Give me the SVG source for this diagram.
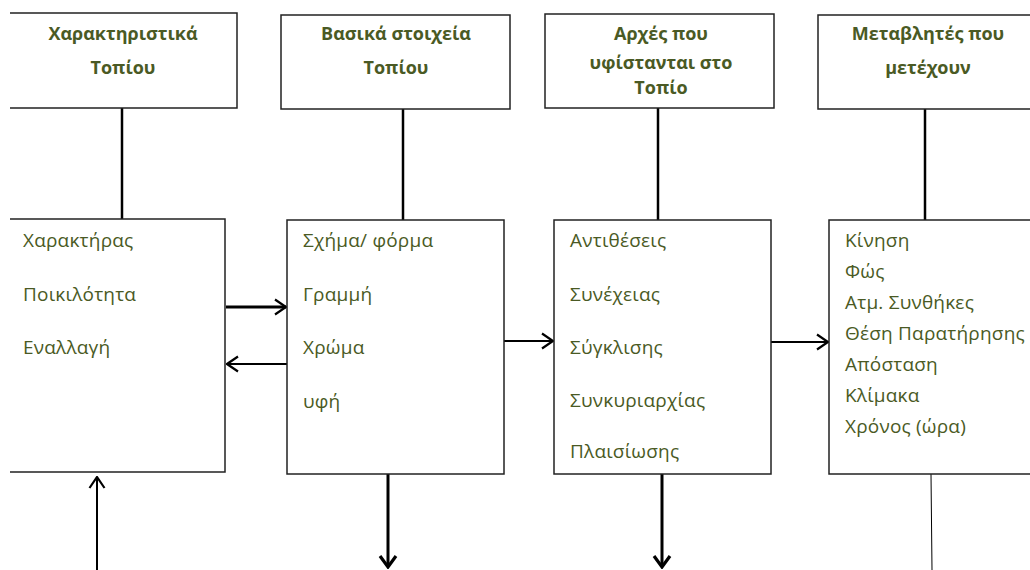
<svg xmlns="http://www.w3.org/2000/svg" width="1030" height="570" viewBox="0 0 1030 570">
<style>
.box{fill:#fff;stroke:#222;stroke-width:1.5}
.t{font-family:"Open Sans","Noto Sans","DejaVu Sans",sans-serif;font-size:19px;letter-spacing:0.2px;fill:#4a5a24}
.h{font-family:"Open Sans","Noto Sans","DejaVu Sans",sans-serif;font-size:18px;font-weight:bold;fill:#4a5a24;text-anchor:middle}
.c{stroke:#000;fill:none}
</style>
<defs>
<marker id="ah" viewBox="0 0 14 18" refX="12.5" refY="9" markerWidth="14" markerHeight="18" markerUnits="userSpaceOnUse" orient="auto">
<path d="M1.5,1.5 L12.5,9 L1.5,16.5" fill="none" stroke="#000" stroke-width="2.2"/>
</marker>
<marker id="ahb" viewBox="0 0 15 20" refX="13" refY="10" markerWidth="15" markerHeight="20" markerUnits="userSpaceOnUse" orient="auto">
<path d="M2,2 L13,10 L2,18" fill="none" stroke="#000" stroke-width="3.2"/>
</marker>
</defs>
<g id="connectors">
<line class="c" x1="122" y1="108" x2="122" y2="220" stroke-width="2.5"/>
<line class="c" x1="403" y1="109" x2="403" y2="220" stroke-width="2.5"/>
<line class="c" x1="658" y1="108" x2="658" y2="220" stroke-width="2.5"/>
<line class="c" x1="925" y1="109" x2="925" y2="220" stroke-width="2.5"/>
<line class="c" x1="226" y1="307" x2="286" y2="307" stroke-width="3" stroke="#333" marker-end="url(#ah)"/>
<line class="c" x1="287" y1="364" x2="227" y2="364" stroke-width="2" marker-end="url(#ah)"/>
<line class="c" x1="504" y1="341" x2="553" y2="341" stroke-width="2" marker-end="url(#ah)"/>
<line class="c" x1="771" y1="342" x2="828" y2="342" stroke-width="2" marker-end="url(#ah)"/>
<line class="c" x1="97" y1="570" x2="97" y2="477" stroke-width="2" marker-end="url(#ah)"/>
<line class="c" x1="388" y1="474" x2="388" y2="567" stroke-width="3" marker-end="url(#ahb)"/>
<line class="c" x1="662" y1="474" x2="662" y2="567" stroke-width="3" marker-end="url(#ahb)"/>
<line class="c" x1="931" y1="474" x2="932" y2="570" stroke-width="1" stroke="#444"/>
</g>
<g id="h1">
<path class="box" d="M10,13 H237 V108 H10"/>
<text class="h" x="123" y="40">Χαρακτηριστικά</text>
<text class="h" x="123" y="74">Τοπίου</text>
</g>
<g id="h2">
<rect class="box" x="281" y="15" width="229" height="94"/>
<text class="h" x="396" y="40">Βασικά στοιχεία</text>
<text class="h" x="396" y="74">Τοπίου</text>
</g>
<g id="h3">
<rect class="box" x="545" y="14" width="229" height="94"/>
<text class="h" x="661" y="40">Αρχές που</text>
<text class="h" x="661" y="69">υφίστανται στο</text>
<text class="h" x="661" y="94">Τοπίο</text>
</g>
<g id="h4">
<path class="box" d="M1031,15 H818 V109 H1031"/>
<text class="h" x="928" y="40">Μεταβλητές που</text>
<text class="h" x="928" y="74">μετέχουν</text>
</g>
<g id="b1">
<path class="box" d="M10,219 H225 V472 H10"/>
<text class="t" x="23" y="247">Χαρακτήρας</text>
<text class="t" x="23" y="301">Ποικιλότητα</text>
<text class="t" x="23" y="354">Εναλλαγή</text>
</g>
<g id="b2">
<rect class="box" x="287" y="220" width="217" height="254"/>
<text class="t" x="303" y="247">Σχήμα/ φόρμα</text>
<text class="t" x="303" y="301">Γραμμή</text>
<text class="t" x="303" y="354">Χρώμα</text>
<text class="t" x="303" y="408">υφή</text>
</g>
<g id="b3">
<rect class="box" x="554" y="220" width="217" height="254"/>
<text class="t" x="570" y="247">Αντιθέσεις</text>
<text class="t" x="570" y="301">Συνέχειας</text>
<text class="t" x="570" y="354">Σύγκλισης</text>
<text class="t" x="570" y="407">Συνκυριαρχίας</text>
<text class="t" x="570" y="458">Πλαισίωσης</text>
</g>
<g id="b4">
<path class="box" d="M1031,220 H829 V474 H1031"/>
<text class="t" x="845" y="247">Κίνηση</text>
<text class="t" x="845" y="278">Φώς</text>
<text class="t" x="845" y="309">Ατμ. Συνθήκες</text>
<text class="t" x="845" y="340">Θέση Παρατήρησης</text>
<text class="t" x="845" y="371">Απόσταση</text>
<text class="t" x="845" y="402">Κλίμακα</text>
<text class="t" x="845" y="433">Χρόνος (ώρα)</text>
</g>
</svg>
